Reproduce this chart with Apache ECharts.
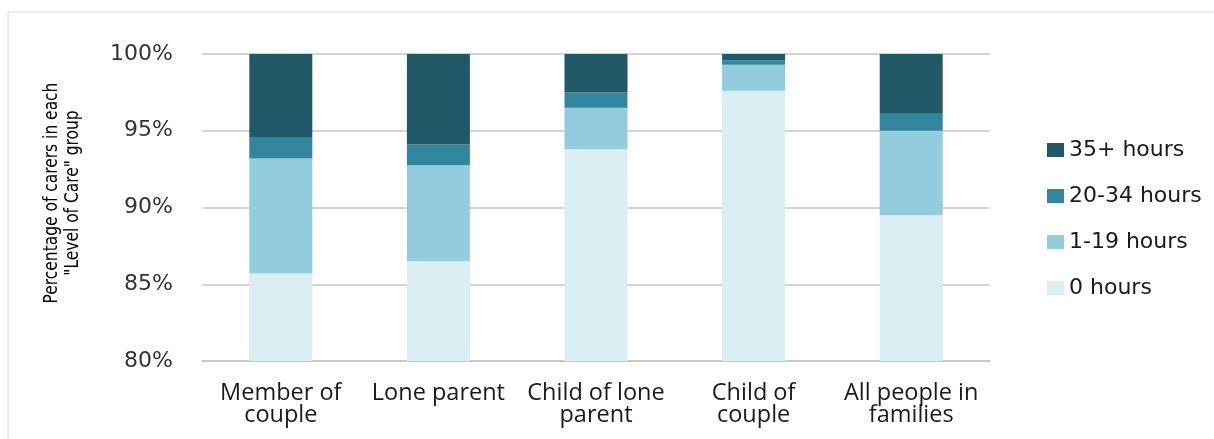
<!DOCTYPE html>
<html>
<head>
<meta charset="utf-8">
<title>Level of Care by family role</title>
<script src="https://cdn.jsdelivr.net/npm/echarts@6/dist/echarts.min.js"></script>
<style>
  html, body { margin: 0; padding: 0; background: #ffffff; }
  #chart { width: 1214px; height: 439px; }
</style>
</head>
<body>
<div id="chart"></div>
<script>
// Family role categories
const categories = ['Member of\ncouple', 'Lone parent', 'Child of lone\nparent', 'Child of\ncouple', 'All people in\nfamilies'];

// Share of carers (%) in each hours-of-care band, per category
const hours0 = [85.7, 86.5, 93.8, 97.6, 89.5];
const hours1to19 = [7.5, 6.25, 2.7, 1.7, 5.5];
const hours20to34 = [1.35, 1.35, 1.0, 0.3, 1.1];
const hours35plus = [5.45, 5.9, 2.5, 0.4, 3.9];

const seriesNames = ['0 hours', '1-19 hours', '20-34 hours', '35+ hours'];
const legendOrder = ['35+ hours', '20-34 hours', '1-19 hours', '0 hours'];

// Y-axis range and step (percent)
const yMin = 80;
const yMax = 100;
const yStep = 5;

const yTitle = 'Percentage of carers in each\n"Level of Care" group';

const colors = {
  '0 hours': '#daeef3',
  '1-19 hours': '#93cddd',
  '20-34 hours': '#31859c',
  '35+ hours': '#215968'
};

const values = [hours0, hours1to19, hours20to34, hours35plus];

const chart = echarts.init(document.getElementById('chart'), null, { renderer: 'canvas' });

const gridColor = '#c4c4c4';

chart.setOption({
  animation: false,
  backgroundColor: '#ffffff',
  graphic: [
    {
      type: 'rect',
      shape: { x: 8, y: 12, width: 1400, height: 600 },
      style: { fill: 'none', stroke: '#dcdcdc', lineWidth: 1 },
      silent: true,
      z: -10
    },
    {
      // rotated two-line axis title, condensed along its reading direction
      type: 'text',
      x: 62,
      y: 193,
      rotation: Math.PI / 2,
      scaleX: 0.86,
      scaleY: 1,
      style: {
        text: yTitle,
        fill: '#000000',
        font: '20px "Liberation Sans Narrow", "DejaVu Sans Condensed", sans-serif',
        lineHeight: 21,
        align: 'center',
        verticalAlign: 'middle'
      }
    }
  ],
  grid: {
    left: 202,
    right: 224,
    top: 54,
    bottom: 78,
    containLabel: false
  },
  legend: {
    data: legendOrder,
    orient: 'vertical',
    left: 1042,
    top: 134,
    itemWidth: 17,
    itemHeight: 14,
    itemGap: 24,
    icon: 'rect',
    textStyle: {
      fontFamily: '"DejaVu Sans", sans-serif',
      fontSize: 22,
      lineHeight: 22,
      color: '#1a1a1a',
      padding: [0, 0, 0, 0]
    }
  },
  xAxis: {
    type: 'category',
    data: categories,
    axisLine: { show: true, lineStyle: { color: gridColor, width: 1.5 } },
    axisTick: { show: false },
    axisLabel: {
      interval: 0,
      margin: 21,
      fontFamily: '"Open Sans", sans-serif',
      fontSize: 23.5,
      lineHeight: 22,
      color: '#1a1a1a'
    }
  },
  yAxis: {
    type: 'value',
    min: yMin,
    max: yMax,
    interval: yStep,
    axisLine: { show: false },
    axisTick: { show: false },
    splitLine: { show: true, lineStyle: { color: gridColor, width: 1.5 } },
    axisLabel: {
      formatter: '{value}%',
      margin: 29,
      fontFamily: '"DejaVu Sans", sans-serif',
      fontSize: 22,
      color: '#333333'
    }
  },
  series: seriesNames.map((name, i) => ({
    name: name,
    type: 'bar',
    stack: 'care',
    barWidth: 63,
    data: values[i],
    itemStyle: { color: colors[name] },
    emphasis: { disabled: true }
  }))
});
</script>
</body>
</html>
